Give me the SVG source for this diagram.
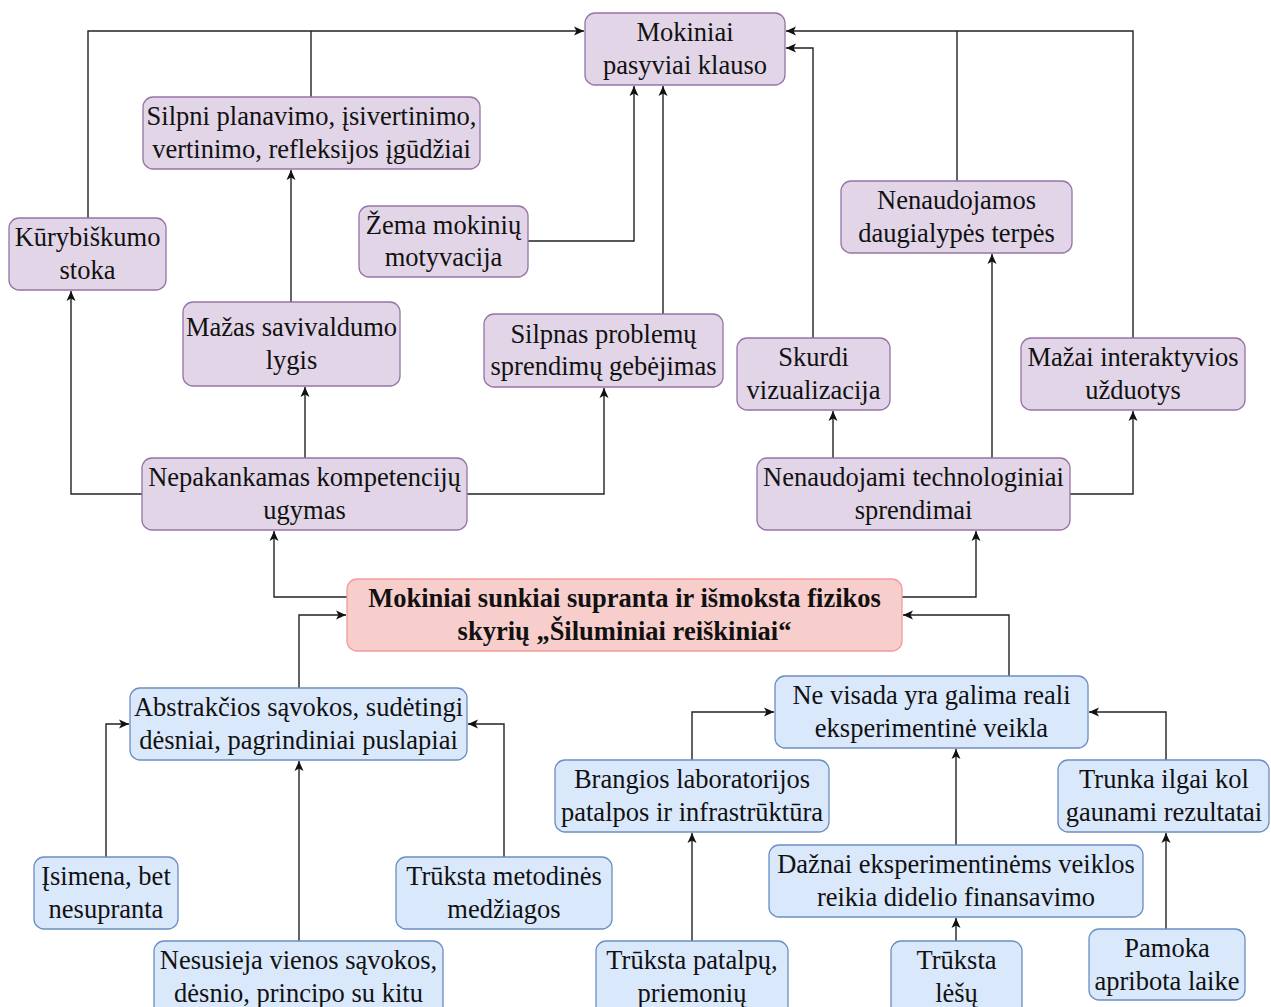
<svg xmlns="http://www.w3.org/2000/svg" width="1271" height="1007" viewBox="0 0 1271 1007" font-family="Liberation Serif, serif">
<style>
.p{fill:#e1d5e7;stroke:#9673a6;stroke-width:1.3}
.b{fill:#dae8fc;stroke:#6c8ebf;stroke-width:1.3}
.r{fill:#f8cecc;stroke:#f19c99;stroke-width:1.3}
text{font-family:'Liberation Serif',serif;font-size:26.5px;fill:#111;text-anchor:middle}
.bold{font-weight:bold}
.c path{fill:none;stroke:#222;stroke-width:1.4}
</style>
<defs>
<marker id="a" markerUnits="userSpaceOnUse" markerWidth="11" markerHeight="10" refX="10" refY="5" orient="auto">
<path d="M0,0.5 L10,5 L0,9.5 L2.5,5 z" fill="#111"/>
</marker>
</defs>
<rect width="1271" height="1007" fill="#fff"/>
<g class="c" id="connectors">
<path d="M88,218 V31 H584" marker-end="url(#a)"/>
<path d="M311,97 V31"/>
<path d="M528,241 H634 V86" marker-end="url(#a)"/>
<path d="M663,314 V86" marker-end="url(#a)"/>
<path d="M813,338 V48 H786" marker-end="url(#a)"/>
<path d="M957,181 V31"/>
<path d="M1133,338 V31 H786" marker-end="url(#a)"/>
<path d="M291,302 V170" marker-end="url(#a)"/>
<path d="M142,494 H71 V291" marker-end="url(#a)"/>
<path d="M305,458 V387" marker-end="url(#a)"/>
<path d="M467,494 H604 V388" marker-end="url(#a)"/>
<path d="M833,458 V411" marker-end="url(#a)"/>
<path d="M992,458 V254" marker-end="url(#a)"/>
<path d="M1070,494 H1133 V411" marker-end="url(#a)"/>
<path d="M347,597 H274 V531" marker-end="url(#a)"/>
<path d="M902,597 H976 V531" marker-end="url(#a)"/>
<path d="M299,688 V615 H346" marker-end="url(#a)"/>
<path d="M1009,676 V615 H903" marker-end="url(#a)"/>
<path d="M106,857 V724 H129" marker-end="url(#a)"/>
<path d="M504,857 V724 H468" marker-end="url(#a)"/>
<path d="M299,941 V761" marker-end="url(#a)"/>
<path d="M692,760 V712 H774" marker-end="url(#a)"/>
<path d="M1166,760 V712 H1089" marker-end="url(#a)"/>
<path d="M956,845 V749" marker-end="url(#a)"/>
<path d="M692,941 V833" marker-end="url(#a)"/>
<path d="M956,941 V918" marker-end="url(#a)"/>
<path d="M1166,929 V833" marker-end="url(#a)"/>
</g>
<g id="n1"><rect class="p" x="585" y="13" width="200" height="72" rx="10"/><text x="685" y="41">Mokiniai</text><text x="685" y="73.5">pasyviai klauso</text></g>
<g id="n2"><rect class="p" x="143" y="97" width="337" height="72" rx="10"/><text x="311.5" y="125">Silpni planavimo, įsivertinimo,</text><text x="311.5" y="157.5">vertinimo, refleksijos įgūdžiai</text></g>
<g id="n3"><rect class="p" x="9" y="218" width="157" height="72" rx="10"/><text x="87.5" y="246">Kūrybiškumo</text><text x="87.5" y="278.5">stoka</text></g>
<g id="n4"><rect class="p" x="359" y="206" width="169" height="71" rx="10"/><text x="443.5" y="233.5">Žema mokinių</text><text x="443.5" y="266">motyvacija</text></g>
<g id="n5"><rect class="p" x="183" y="302" width="217" height="84" rx="10"/><text x="291.5" y="336">Mažas savivaldumo</text><text x="291.5" y="368.5">lygis</text></g>
<g id="n6"><rect class="p" x="484" y="314" width="239" height="73" rx="10"/><text x="603.5" y="342.5">Silpnas problemų</text><text x="603.5" y="375">sprendimų gebėjimas</text></g>
<g id="n7"><rect class="p" x="737" y="338" width="153" height="72" rx="10"/><text x="813.5" y="366">Skurdi</text><text x="813.5" y="398.5">vizualizacija</text></g>
<g id="n8"><rect class="p" x="841" y="181" width="231" height="72" rx="10"/><text x="956.5" y="209">Nenaudojamos</text><text x="956.5" y="241.5">daugialypės terpės</text></g>
<g id="n9"><rect class="p" x="1021" y="338" width="224" height="72" rx="10"/><text x="1133" y="366">Mažai interaktyvios</text><text x="1133" y="398.5">užduotys</text></g>
<g id="n10"><rect class="p" x="142" y="458" width="325" height="72" rx="10"/><text x="304.5" y="486">Nepakankamas kompetencijų</text><text x="304.5" y="518.5">ugymas</text></g>
<g id="n11"><rect class="p" x="757" y="458" width="313" height="72" rx="10"/><text x="913.5" y="486">Nenaudojami technologiniai</text><text x="913.5" y="518.5">sprendimai</text></g>
<g id="n12"><rect class="r" x="347" y="579" width="555" height="72" rx="10"/><text class="bold" x="624.5" y="607">Mokiniai sunkiai supranta ir išmoksta fizikos</text><text class="bold" x="624.5" y="639.5">skyrių „Šiluminiai reiškiniai“</text></g>
<g id="n13"><rect class="b" x="130" y="688" width="337" height="72" rx="10"/><text x="298.5" y="716">Abstrakčios sąvokos, sudėtingi</text><text x="298.5" y="748.5">dėsniai, pagrindiniai puslapiai</text></g>
<g id="n14"><rect class="b" x="775" y="676" width="313" height="72" rx="10"/><text x="931.5" y="704">Ne visada yra galima reali</text><text x="931.5" y="736.5">eksperimentinė veikla</text></g>
<g id="n15"><rect class="b" x="555" y="760" width="274" height="72" rx="10"/><text x="692" y="788">Brangios laboratorijos</text><text x="692" y="820.5">patalpos ir infrastrūktūra</text></g>
<g id="n16"><rect class="b" x="1058" y="760" width="211" height="72" rx="10"/><text x="1164" y="788">Trunka ilgai kol</text><text x="1164" y="820.5">gaunami rezultatai</text></g>
<g id="n17"><rect class="b" x="34" y="857" width="144" height="72" rx="10"/><text x="106" y="885">Įsimena, bet</text><text x="106" y="917.5">nesupranta</text></g>
<g id="n18"><rect class="b" x="396" y="857" width="216" height="72" rx="10"/><text x="504" y="885">Trūksta metodinės</text><text x="504" y="917.5">medžiagos</text></g>
<g id="n19"><rect class="b" x="154" y="941" width="289" height="80" rx="10"/><text x="298.5" y="969">Nesusieja vienos sąvokos,</text><text x="298.5" y="1001.5">dėsnio, principo su kitu</text></g>
<g id="n20"><rect class="b" x="769" y="845" width="374" height="72" rx="10"/><text x="956" y="873">Dažnai eksperimentinėms veiklos</text><text x="956" y="905.5">reikia didelio finansavimo</text></g>
<g id="n21"><rect class="b" x="596" y="941" width="192" height="80" rx="10"/><text x="692" y="969">Trūksta patalpų,</text><text x="692" y="1001.5">priemonių</text></g>
<g id="n22"><rect class="b" x="891" y="941" width="131" height="80" rx="10"/><text x="956.5" y="969">Trūksta</text><text x="956.5" y="1001.5">lėšų</text></g>
<g id="n23"><rect class="b" x="1089" y="929" width="156" height="71" rx="10"/><text x="1167" y="957">Pamoka</text><text x="1167" y="989.5">apribota laike</text></g>
</svg>
